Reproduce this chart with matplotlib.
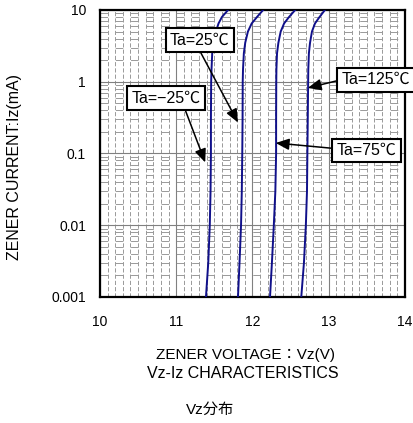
import matplotlib

matplotlib.use("Agg")
import matplotlib.pyplot as plt  # noqa: E402
from matplotlib.ticker import FixedLocator, LogLocator, MultipleLocator, NullFormatter  # noqa: E402

plt.rcParams["font.family"] = ["Liberation Sans", "Noto Sans CJK JP", "DejaVu Sans"]
plt.rcParams["lines.scale_dashes"] = False

# Iz (mA) sample points shared by all curves
CURRENT_MA = [0.001, 0.003, 0.01, 0.03, 0.1, 0.3, 1, 1.5, 2.5, 3.5, 5, 6.5, 8, 10]

# Vz (V) per temperature
VZ_M25 = [11.39, 11.42, 11.44, 11.45, 11.455, 11.455, 11.458, 11.463, 11.472, 11.49, 11.52, 11.555, 11.60, 11.68]
VZ_25 = [11.81, 11.83, 11.85, 11.86, 11.866, 11.87, 11.872, 11.876, 11.887, 11.905, 11.94, 11.99, 12.06, 12.14]
VZ_75 = [12.23, 12.255, 12.28, 12.30, 12.31, 12.31, 12.312, 12.314, 12.322, 12.34, 12.37, 12.415, 12.48, 12.56]
VZ_125 = [12.64, 12.675, 12.70, 12.715, 12.72, 12.725, 12.73, 12.732, 12.74, 12.755, 12.78, 12.82, 12.88, 12.95]

X_TICKS = [10, 11, 12, 13, 14]
Y_TICKS = [0.001, 0.01, 0.1, 1, 10]
Y_TICK_LABELS = ["0.001", "0.01", "0.1", "1", "10"]

# label text, box centre (V, mA), arrow tip (V, mA), arrow start on the box
LABELS = [
    ("Ta=25℃", (11.31, 3.8), (11.81, 0.27), (0.47, 0.0)),
    ("Ta=−25℃", (10.87, 0.59), (11.38, 0.075), (0.75, 0.0)),
    ("Ta=125℃", (13.62, 1.07), (12.725, 0.82), (0.0, 0.5)),
    ("Ta=75℃", (13.50, 0.11), (12.305, 0.14), (0.0, 0.62)),
]

LINE_COLOR = "#10108a"


def main() -> None:
    fig = plt.figure(figsize=(4.14, 4.23), dpi=100)
    ax = fig.add_axes([0.2415, 0.2979, 0.7367, 0.6785])

    for vz in (VZ_M25, VZ_25, VZ_75, VZ_125):
        ax.plot(vz, CURRENT_MA, color=LINE_COLOR, linewidth=1.4, zorder=3)

    ax.set_yscale("log")
    ax.set_xlim(10, 14)
    ax.set_ylim(0.001, 10)

    ax.xaxis.set_major_locator(FixedLocator(X_TICKS))
    ax.xaxis.set_minor_locator(MultipleLocator(0.1))
    ax.yaxis.set_major_locator(FixedLocator(Y_TICKS))
    ax.yaxis.set_minor_locator(LogLocator(base=10, subs=range(2, 10)))
    ax.yaxis.set_minor_formatter(NullFormatter())
    ax.set_xticklabels([str(v) for v in X_TICKS])
    ax.set_yticklabels(Y_TICK_LABELS)
    ax.tick_params(which="both", length=0, labelsize=10)
    ax.tick_params(axis="x", pad=13)
    ax.tick_params(axis="y", pad=10)

    ax.grid(which="major", color="#808080", linewidth=0.8, zorder=1)
    ax.xaxis.grid(which="minor", color="#999999", linewidth=0.7, linestyle=(0, (3.0, 1.5)))
    ax.yaxis.grid(which="minor", color="#999999", linewidth=0.7, linestyle=(0, (5.4, 5.6)))
    ax.set_axisbelow(True)
    for spine in ax.spines.values():
        spine.set_linewidth(1.6)
        spine.set_color("black")

    for text, pos, tip, rel in LABELS:
        ax.annotate(
            text,
            xy=tip,
            xytext=pos,
            ha="center",
            va="center",
            fontsize=11.5,
            zorder=5,
            annotation_clip=False,
            bbox=dict(boxstyle="square,pad=0.28", facecolor="white", edgecolor="black", linewidth=1.5),
            arrowprops=dict(
                arrowstyle="-|>,head_length=0.7,head_width=0.3",
                color="black",
                linewidth=1.1,
                shrinkA=0,
                shrinkB=0,
                relpos=rel,
            ),
        )

    fig.text(0.036, 0.606, "ZENER CURRENT:Iz(mA)", rotation=90, ha="center", va="center", fontsize=11.5)
    fig.text(0.592, 0.161, "ZENER VOLTAGE：Vz(V)", ha="center", va="center", fontsize=11)
    fig.text(0.587, 0.118, "Vz-Iz CHARACTERISTICS", ha="center", va="center", fontsize=11.5)
    fig.text(0.507, 0.031, "Vz分布", ha="center", va="center", fontsize=11)

    fig.savefig("out.png", dpi=100)
    plt.close(fig)


if __name__ == "__main__":
    main()
